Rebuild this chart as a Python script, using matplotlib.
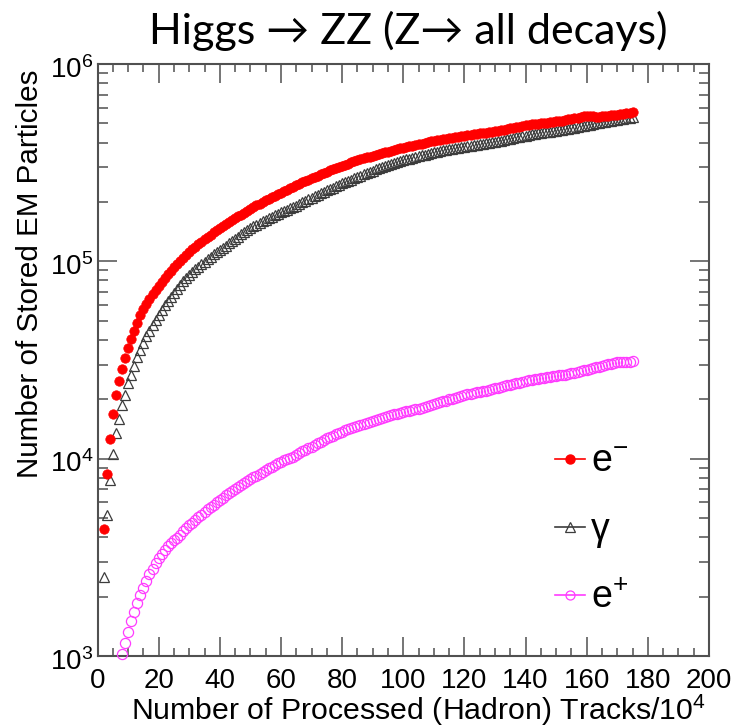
import numpy as np
import matplotlib
matplotlib.use("Agg")
import matplotlib.pyplot as plt
from matplotlib.lines import Line2D
from matplotlib.ticker import FixedLocator, MultipleLocator, LogLocator, NullFormatter, FixedFormatter
from matplotlib.transforms import ScaledTranslation

plt.rcParams['font.family'] = ['Liberation Sans', 'DejaVu Sans']
plt.rcParams['mathtext.fontset'] = 'custom'
plt.rcParams['mathtext.rm'] = 'Liberation Sans'
plt.rcParams['mathtext.it'] = 'Liberation Sans:italic'
plt.rcParams['mathtext.bf'] = 'Liberation Sans:bold'

# ---------------- data (values in thousands of particles) ----------------
x_start_em = 2          # first processed-track step for e- and gamma (x 10^4)
x_start_pos = 8         # first visible step for e+

e_minus_k = [4.4, 8.4, 12.6, 16.9, 21.0, 24.7, 28.4, 32.5,
             36.5, 40.2, 44.3, 48.9, 53.2, 57.1, 61.0, 64.6, 68.2, 71.8,
             75.4, 79.0, 82.6, 86.2, 89.8, 93.4, 97.0, 100.6, 104.2, 107.8,
             111.4, 115.0, 118.6, 122.2, 125.8, 129.4, 133.0, 136.6, 140.2, 143.8,
             147.4, 151.0, 154.6, 158.2, 161.8, 165.4, 169.0, 172.6, 176.2, 179.8,
             184.0, 188.2, 192.4, 196.1, 199.8, 203.5, 207.2, 210.9, 214.6, 218.3,
             222.6, 226.9, 230.6, 235.0, 238.7, 243.1, 246.8, 251.3, 255.7, 259.4,
             263.9, 267.7, 272.2, 275.9, 280.5, 284.3, 288.8, 292.6, 296.4, 301.0,
             304.8, 308.6, 312.4, 317.1, 320.9, 324.7, 328.5, 332.3, 336.2, 339.1,
             342.9, 346.7, 349.6, 353.4, 356.3, 360.1, 362.9, 366.7, 369.5, 373.2,
             376.0, 379.8, 382.5, 386.3, 389.0, 392.7, 395.4, 399.1, 401.8, 405.5,
             408.1, 410.7, 413.3, 415.8, 418.4, 420.9, 423.4, 425.9, 428.3, 430.8,
             433.2, 435.6, 438.0, 440.3, 442.7, 445.0, 447.3, 449.6, 451.8, 454.1,
             456.3, 458.5, 462.0, 465.5, 469.0, 472.5, 476.0, 478.1, 481.6, 485.1,
             488.6, 490.7, 494.2, 496.2, 498.2, 500.3, 502.2, 504.2, 506.2, 508.1,
             511.5, 513.4, 516.8, 520.2, 523.6, 527.0, 530.4, 533.8, 538.8, 543.8,
             545.6, 544.2, 542.7, 541.2, 541.2, 542.9, 544.5, 546.1, 549.4, 550.9,
             554.2, 557.5, 559.0, 562.3, 565.5, 568.8]

gamma_k = [2.5, 5.2, 7.8, 10.6, 13.5, 15.9, 18.8, 21.1,
           24.2, 26.7, 29.6, 32.8, 35.6, 38.6, 41.6, 44.6, 47.5, 50.5,
           53.6, 56.7, 59.8, 63.0, 66.2, 69.5, 72.8, 76.1, 79.2, 82.4,
           85.5, 88.4, 91.2, 94.1, 96.9, 99.8, 102.6, 105.5, 108.3, 111.2,
           114.0, 116.9, 120.1, 123.4, 126.7, 130.1, 133.4, 136.8, 140.2, 143.6,
           147.0, 150.5, 153.4, 156.4, 159.3, 162.3, 165.2, 168.2, 171.1, 174.1,
           177.0, 180.0, 182.9, 185.9, 188.8, 191.8, 195.4, 199.0, 202.6, 206.3,
           210.0, 213.7, 217.4, 221.2, 225.0, 228.8, 232.6, 236.4, 240.2, 244.1,
           248.0, 251.9, 255.8, 259.8, 263.8, 267.8, 271.7, 275.8, 279.8, 283.9,
           288.0, 292.1, 296.2, 300.4, 304.6, 308.8, 312.0, 315.3, 318.5, 321.8,
           325.0, 328.3, 331.5, 334.8, 338.0, 341.3, 344.5, 347.8, 351.0, 354.3,
           357.5, 360.0, 362.5, 365.0, 367.4, 369.8, 372.2, 374.6, 377.0, 379.3,
           381.6, 384.0, 386.3, 388.6, 390.8, 393.0, 395.2, 397.4, 399.5, 401.6,
           403.8, 406.1, 409.2, 412.3, 415.4, 418.5, 421.6, 424.7, 427.8, 430.9,
           434.0, 437.1, 440.2, 442.6, 444.9, 447.3, 449.7, 452.0, 454.4, 456.7,
           459.0, 461.3, 463.6, 465.9, 468.9, 472.0, 475.6, 479.3, 483.0, 486.7,
           490.4, 493.5, 496.6, 499.6, 502.7, 505.7, 508.8, 511.9, 514.9, 518.0,
           521.0, 524.1, 527.2, 530.2, 533.3, 536.4]

e_plus_k = [1.02, 1.17,
            1.33, 1.50, 1.67, 1.85, 2.03, 2.22, 2.40, 2.59, 2.77, 2.95,
            3.12, 3.29, 3.44, 3.59, 3.72, 3.85, 3.98, 4.12, 4.28, 4.43,
            4.59, 4.74, 4.90, 5.05, 5.21, 5.37, 5.53, 5.69, 5.85, 6.00,
            6.16, 6.33, 6.52, 6.72, 6.88, 7.04, 7.19, 7.35, 7.50, 7.67,
            7.85, 8.03, 8.21, 8.39, 8.56, 8.74, 8.93, 9.12, 9.31, 9.50,
            9.64, 9.79, 9.94, 10.10, 10.25, 10.42, 10.65, 10.88, 11.10, 11.30,
            11.50, 11.75, 12.00, 12.20, 12.45, 12.70, 12.90, 13.10, 13.30, 13.50,
            13.70, 13.90, 14.10, 14.30, 14.50, 14.65, 14.85, 15.00, 15.20, 15.40,
            15.55, 15.70, 15.90, 16.05, 16.20, 16.40, 16.55, 16.75, 16.90, 17.05,
            17.20, 17.35, 17.50, 17.65, 17.80, 17.95, 18.10, 18.30, 18.45, 18.65,
            18.85, 19.05, 19.30, 19.50, 19.70, 19.95, 20.15, 20.40, 20.60, 20.80,
            21.00, 21.15, 21.30, 21.50, 21.65, 21.80, 22.00, 22.15, 22.30, 22.50,
            22.70, 22.90, 23.10, 23.30, 23.50, 23.70, 23.90, 24.10, 24.30, 24.50,
            24.70, 24.90, 25.10, 25.30, 25.45, 25.60, 25.75, 25.90, 26.00, 26.15,
            26.25, 26.40, 26.55, 26.70, 26.90, 27.10, 27.30, 27.55, 27.80, 28.00,
            28.30, 28.55, 28.80, 29.05, 29.30, 29.55, 29.80, 30.10, 30.35, 30.60,
            30.80, 30.90, 30.95, 31.00, 31.00, 31.10]

x_ticks = [0, 20, 40, 60, 80, 100, 120, 140, 160, 180, 200]
y_ticks = [1e3, 1e4, 1e5, 1e6]
y_tick_labels = [r'$\mathregular{10^{3}}$', r'$\mathregular{10^{4}}$',
                 r'$\mathregular{10^{5}}$', r'$\mathregular{10^{6}}$']
series_labels = [r'e$^{\mathregular{-}}$', 'γ', r'e$^{\mathregular{+}}$']
title = 'Higgs \u2192 ZZ (Z\u2192 all decays)'
x_label = r'Number of Processed (Hadron) Tracks/10$^{\mathregular{4}}$'
y_label = 'Number of Stored EM Particles'

assert len(e_minus_k) == 174 and len(gamma_k) == 174 and len(e_plus_k) == 168

x_em = np.arange(x_start_em, x_start_em + len(e_minus_k))
x_pos = np.arange(x_start_pos, x_start_pos + len(e_plus_k))
e_minus = np.array(e_minus_k) * 1000
gamma = np.array(gamma_k) * 1000
e_plus = np.array(e_plus_k) * 1000

# ---------------- figure ----------------
W, H = 737, 728
fig = plt.figure(figsize=(W / 100, H / 100), dpi=100)
ax = fig.add_axes([97.5 / W, 1 - 656 / H, (709 - 97.5) / W, (656 - 64) / H])

RED = '#ff0000'
GRAY = '#3c3c3c'
MAG = '#ff3cff'

ax.plot(x_em, gamma, linestyle='none', marker='^', ms=7, mfc='none',
        mec=GRAY, mew=0.9, zorder=3)
ax.plot(x_em, e_minus, linestyle='none', marker='o', ms=6.8, mfc=RED,
        mec=RED, mew=0.5, zorder=4)
ax.plot(x_pos, e_plus, linestyle='none', marker='o', ms=7.3, mfc='none',
        mec=MAG, mew=0.9, zorder=3, clip_on=False)

ax.set_xlim(0, 200)
ax.set_yscale('log')
ax.set_ylim(1e3, 1e6)

FRAME = '#505050'
for s in ax.spines.values():
    s.set_color(FRAME)
    s.set_linewidth(1.5)

ax.xaxis.set_major_locator(FixedLocator(x_ticks))
ax.xaxis.set_minor_locator(MultipleLocator(5))
ax.yaxis.set_major_locator(FixedLocator(y_ticks))
ax.yaxis.set_major_formatter(FixedFormatter(y_tick_labels))
ax.yaxis.set_minor_locator(LogLocator(base=10, subs=np.arange(2, 10)))
ax.yaxis.set_minor_formatter(NullFormatter())

ax.tick_params(which='both', direction='in', top=True, right=True,
               color=FRAME, width=1.1)
ax.tick_params(axis='x', which='major', length=13.5, labelsize=20, pad=9)
ax.tick_params(axis='x', which='minor', length=5.5)
ax.tick_params(axis='y', which='major', length=13.5, labelsize=20, pad=3)
ax.tick_params(axis='y', which='minor', length=7)

for lab in ax.get_yticklabels():
    lab.set_transform(lab.get_transform() + ScaledTranslation(0, -2 / 72, fig.dpi_scale_trans))

# axis titles
fig.text(706 / W, 1 - 710 / H, x_label, ha='right', va='center', fontsize=21.8)
fig.text(30 / W, 1 - 274 / H, y_label, ha='center', va='center', rotation=90, fontsize=21.3)

# title
fig.text(408 / W, 1 - 31 / H, title, ha='center', va='center', fontsize=31,
         family=['Lato', 'DejaVu Sans'])

# legend
handles = [
    Line2D([], [], color=RED, lw=1.2, marker='o', ms=6.5, mfc=RED, mec=RED),
    Line2D([], [], color=GRAY, lw=1.2, marker='^', ms=6.5, mfc='none', mec=GRAY, mew=0.9),
    Line2D([], [], color=MAG, lw=1.2, marker='o', ms=6.5, mfc='none', mec=MAG, mew=0.9),
]
leg = ax.legend(handles, series_labels, loc='upper left',
                bbox_to_anchor=(555 / W, 1 - 444 / H), bbox_transform=fig.transFigure,
                frameon=False, fontsize=27, handlelength=0.8, handletextpad=0.15,
                labelspacing=0.85, borderpad=0, borderaxespad=0)

fig.savefig('out.png', dpi=100)
